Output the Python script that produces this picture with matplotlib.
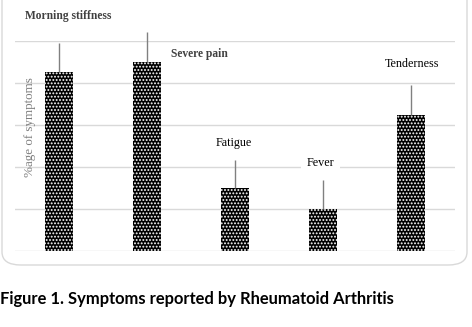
import matplotlib
matplotlib.use("Agg")
import matplotlib.pyplot as plt
from matplotlib.patches import FancyBboxPatch

# symptom data (%age of patients) and upper error
symptoms = ["Morning stiffness", "Severe pain", "Fatigue", "Fever", "Tenderness"]
values = [42.6, 45.0, 15.0, 10.0, 32.4]
errors = [6.9, 7.1, 6.7, 6.9, 7.1]
caption = "Figure 1. Symptoms reported by Rheumatoid Arthritis"

# where each data label sits (x offset from bar, y in data units)
label_pos = [(0.11, 56.0), (1.6, 46.9), (1.99, 25.7), (2.97, 21.0), (4.01, 44.5)]
label_bold = [True, True, False, False, False]

plt.rcParams["hatch.linewidth"] = 0.9

fig = plt.figure(figsize=(4.72, 3.27), dpi=100)
ax = fig.add_axes([15 / 472, 76 / 327, 440 / 472, 210 / 327])

# rounded frame around the chart
frame = FancyBboxPatch((2 / 472, 62 / 327), 465 / 472, 280 / 327,
                       boxstyle="round,pad=0,rounding_size=0.04",
                       transform=fig.transFigure, facecolor="none",
                       edgecolor="#d9d9d9", lw=1.0, zorder=0)
fig.patches.append(frame)

x = range(len(symptoms))
ax.bar(x, values, width=0.32, color="black", edgecolor="white",
       hatch=".....", linewidth=0, zorder=3)
ax.errorbar(x, values, yerr=[[0] * len(errors), errors], fmt="none",
            ecolor="#808080", elinewidth=1, capsize=0, zorder=4,
            clip_on=False)

ax.set_xlim(-0.5, 4.5)
ax.set_ylim(0, 50)
ax.set_yticks([0, 10, 20, 30, 40, 50])
ax.grid(axis="y", color="#d9d9d9", lw=1, zorder=0)
ax.tick_params(left=False, bottom=False, labelleft=False, labelbottom=False)
for s in ax.spines.values():
    s.set_visible(False)

ax.text(-0.33, 29.5, "%age of symptoms", rotation=90, ha="center",
        va="center", family="Liberation Serif", fontsize=9.4,
        color="#7f7f7f")

for name, (lx, ly), bold in zip(symptoms, label_pos, label_bold):
    kw = dict(ha="center", va="center", family="Liberation Serif",
              fontsize=8.7, zorder=5, clip_on=False)
    if bold:
        kw.update(fontweight="bold", color="#404040", fontsize=8.3)
    else:
        kw.update(color="black")
    if name == "Fever":
        kw.update(bbox=dict(facecolor="white", edgecolor="none", pad=4))
    ax.text(lx, ly, name, **kw)

fig.text(0.0, 1 - 299 / 327, caption, ha="left", va="center",
         family="Lato", fontweight="bold", fontsize=11.9, color="black")

fig.savefig("out.png", dpi=100)
